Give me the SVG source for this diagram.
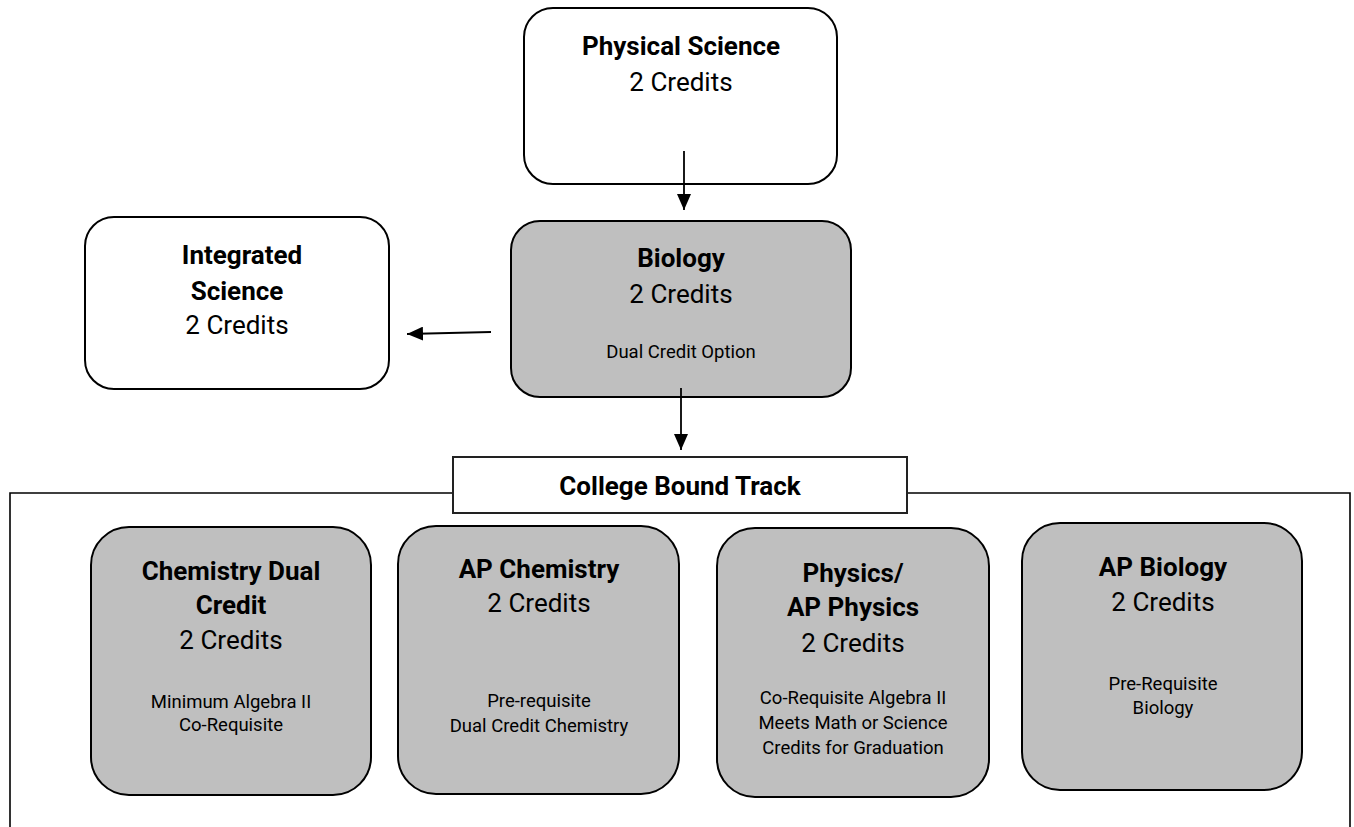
<svg xmlns="http://www.w3.org/2000/svg" width="1354" height="827" viewBox="0 0 1354 827">
<style>
  .box { stroke: #000; stroke-width: 2; }
  .white { fill: #fff; }
  .gray { fill: #bfbfbf; }
  .t { font-family: Roboto, "Liberation Sans", sans-serif; fill: #000; text-anchor: middle; }
  .title { font-size: 26px; font-weight: bold; }
  .cred { font-size: 26px; }
  .small { font-size: 18.5px; }
  .conn { stroke: #000; stroke-width: 1.8; fill: none; }
  .frame { stroke: #000; stroke-width: 1.6; fill: none; }
</style>
<defs>
  <marker id="arrow" viewBox="0 0 16 14" refX="16" refY="7" markerWidth="16" markerHeight="14" markerUnits="userSpaceOnUse" orient="auto">
    <path d="M0,0 L16,7 L0,14 Z" fill="#000"/>
  </marker>
</defs>
<rect width="1354" height="827" fill="#fff"/>

<g id="frame">
  <polyline class="frame" points="10,827 10,493 453,493"/>
  <polyline class="frame" points="907,493 1350,493 1350,827"/>
</g>

<g id="physical-science">
  <rect class="box white" x="524" y="8" width="313" height="176" rx="29" ry="29"/>
  <text class="t title" x="681" y="55">Physical Science</text>
  <text class="t cred" x="681" y="91">2 Credits</text>
</g>

<g id="biology">
  <rect class="box gray" x="511" y="221" width="340" height="176" rx="29" ry="29"/>
  <text class="t title" x="681" y="267">Biology</text>
  <text class="t cred" x="681" y="303">2 Credits</text>
  <text class="t small" x="681" y="358">Dual Credit Option</text>
</g>

<g id="integrated-science">
  <rect class="box white" x="85" y="217" width="304" height="172" rx="29" ry="29"/>
  <text class="t title" x="242" y="264">Integrated</text>
  <text class="t title" x="237" y="300">Science</text>
  <text class="t cred" x="237" y="334">2 Credits</text>
</g>

<g id="college-bound-track">
  <rect x="453" y="457" width="454" height="56" fill="#fff" stroke="#222" stroke-width="2"/>
  <text class="t title" x="680" y="495">College Bound Track</text>
</g>

<g id="chemistry-dual-credit">
  <rect class="box gray" x="91" y="527" width="280" height="268" rx="38" ry="38"/>
  <text class="t title" x="231" y="580">Chemistry Dual</text>
  <text class="t title" x="231" y="614">Credit</text>
  <text class="t cred" x="231" y="649">2 Credits</text>
  <text class="t small" x="231" y="708">Minimum Algebra II</text>
  <text class="t small" x="231" y="731">Co-Requisite</text>
</g>

<g id="ap-chemistry">
  <rect class="box gray" x="398" y="526" width="281" height="268" rx="38" ry="38"/>
  <text class="t title" x="539" y="578">AP Chemistry</text>
  <text class="t cred" x="539" y="612">2 Credits</text>
  <text class="t small" x="539" y="707">Pre-requisite</text>
  <text class="t small" x="539" y="732">Dual Credit Chemistry</text>
</g>

<g id="physics">
  <rect class="box gray" x="717" y="528" width="272" height="269" rx="38" ry="38"/>
  <text class="t title" x="853" y="582">Physics/</text>
  <text class="t title" x="853" y="616">AP Physics</text>
  <text class="t cred" x="853" y="652">2 Credits</text>
  <text class="t small" x="853" y="704">Co-Requisite Algebra II</text>
  <text class="t small" x="853" y="729">Meets Math or Science</text>
  <text class="t small" x="853" y="754">Credits for Graduation</text>
</g>

<g id="ap-biology">
  <rect class="box gray" x="1022" y="523" width="280" height="267" rx="38" ry="38"/>
  <text class="t title" x="1163" y="576">AP Biology</text>
  <text class="t cred" x="1163" y="611">2 Credits</text>
  <text class="t small" x="1163" y="690">Pre-Requisite</text>
  <text class="t small" x="1163" y="714">Biology</text>
</g>

<g id="connectors">
  <line class="conn" x1="684" y1="151" x2="684" y2="210" marker-end="url(#arrow)"/>
  <line class="conn" x1="491" y1="332" x2="407" y2="334" marker-end="url(#arrow)"/>
  <line class="conn" x1="681" y1="388" x2="681" y2="450" marker-end="url(#arrow)"/>
</g>
</svg>
